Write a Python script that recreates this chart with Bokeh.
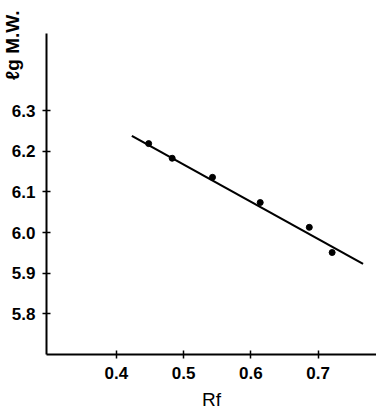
from bokeh.plotting import figure
from bokeh.models import FixedTicker, Range1d, PrintfTickFormatter, Title
from bokeh.embed import file_html
from bokeh.resources import INLINE

# data
RF = [0.448, 0.483, 0.543, 0.614, 0.687, 0.721]
LOG_MW = [6.219, 6.183, 6.136, 6.074, 6.013, 5.951]
FIT_X = [0.423, 0.767]
FIT_Y = [6.238, 5.923]
X_TICKS = [0.4, 0.5, 0.6, 0.7]
Y_TICKS = [5.8, 5.9, 6.0, 6.1, 6.2, 6.3]

FONT = "Liberation Sans"

p = figure(width=376, height=418, output_backend="svg", toolbar_location=None,
           x_range=Range1d(0.296, 0.787), y_range=Range1d(5.70, 6.49),
           min_border_left=46, min_border_right=0, min_border_top=33, min_border_bottom=64)
p.outline_line_color = None
p.xgrid.visible = False
p.ygrid.visible = False

p.line(FIT_X, FIT_Y, line_color="black", line_width=2.2)
p.scatter(RF, LOG_MW, size=6, color="black")

for ax in (p.xaxis[0], p.yaxis[0]):
    ax.axis_line_width = 2
    ax.axis_line_color = "black"
    ax.major_tick_line_width = 1.5
    ax.major_tick_in = 4
    ax.major_tick_out = 4
    ax.minor_tick_line_color = None
    ax.major_label_text_font = FONT
    ax.major_label_text_font_style = "bold"
    ax.major_label_text_font_size = "17px"
    ax.major_label_text_color = "black"

p.xaxis.ticker = FixedTicker(ticks=X_TICKS)
p.yaxis.ticker = FixedTicker(ticks=Y_TICKS)
p.yaxis.formatter = PrintfTickFormatter(format="%.1f")
p.xaxis.major_label_standoff = 8
p.yaxis.major_label_standoff = 7
p.xaxis.axis_label = "Rf"
p.xaxis.axis_label_text_font = FONT
p.xaxis.axis_label_text_font_style = "normal"
p.xaxis.axis_label_text_font_size = "19px"
p.xaxis.axis_label_text_color = "black"
p.xaxis.axis_label_standoff = 7

ytitle = Title(text="ℓg M.W.", align="right", offset=-23, standoff=-29,
               text_font=FONT, text_font_style="bold", text_font_size="19px",
               text_color="black")
p.add_layout(ytitle, "left")

open("out.html", "w").write(file_html(p, INLINE))
